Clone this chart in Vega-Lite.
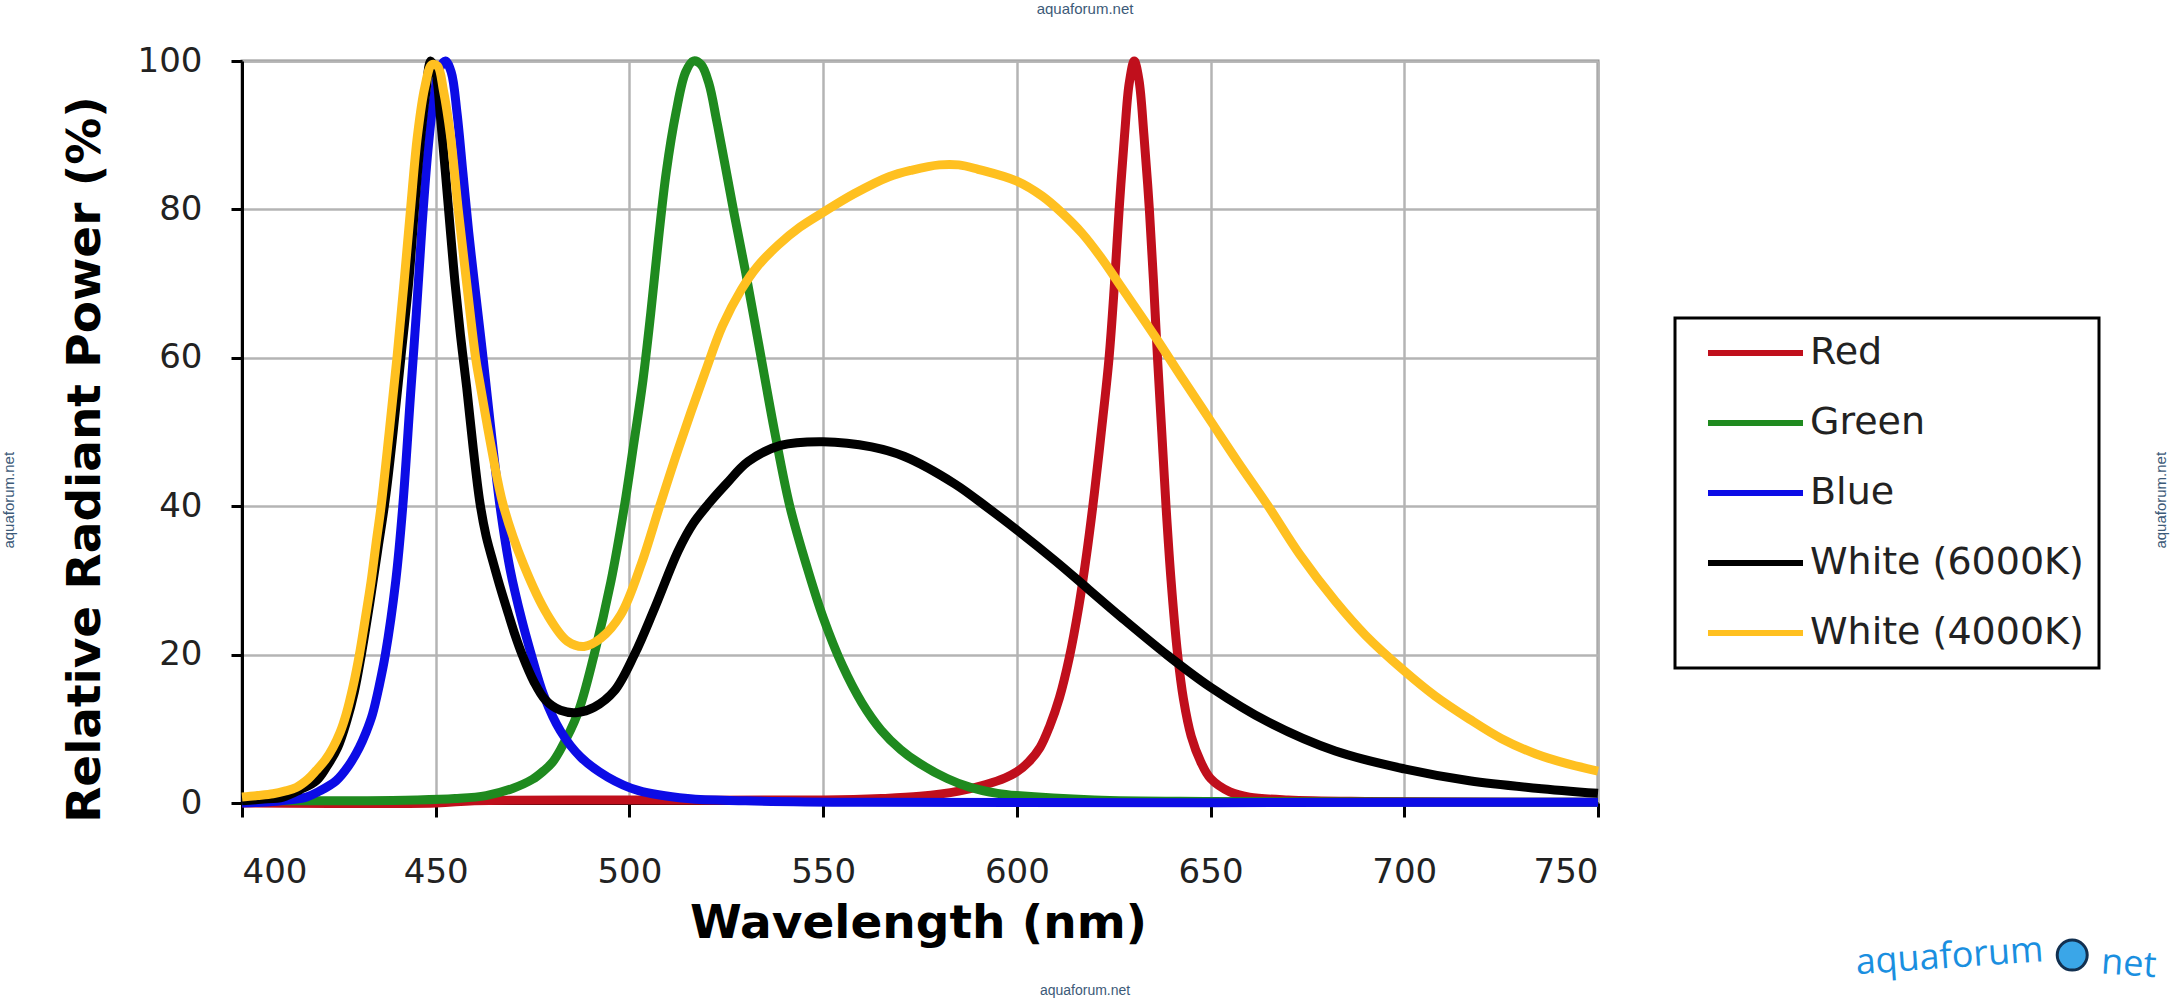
{
  "$schema": "https://vega.github.io/schema/vega-lite/v6.json",
  "width": 1356,
  "height": 742,
  "autosize": {"type": "none"},
  "padding": {"left": 242, "top": 61, "right": 572, "bottom": 197},
  "background": "white",
  "config": {
    "font": "DejaVu Sans",
    "view": {"stroke": "#8c8c8c", "strokeWidth": 3},
    "legend": {"strokeWidth": 3}
  },
  "datasets": {
    "spectra": [
      {"series": "Red", "wavelength": 400, "power": 0},
      {"series": "Red", "wavelength": 450, "power": 0},
      {"series": "Red", "wavelength": 460, "power": 0.3},
      {"series": "Red", "wavelength": 500, "power": 0.4},
      {"series": "Red", "wavelength": 550, "power": 0.4},
      {"series": "Red", "wavelength": 565, "power": 0.6},
      {"series": "Red", "wavelength": 575, "power": 0.9},
      {"series": "Red", "wavelength": 585, "power": 1.6},
      {"series": "Red", "wavelength": 592, "power": 2.5},
      {"series": "Red", "wavelength": 597, "power": 3.4},
      {"series": "Red", "wavelength": 600, "power": 4.2},
      {"series": "Red", "wavelength": 603, "power": 5.5},
      {"series": "Red", "wavelength": 606, "power": 7.5},
      {"series": "Red", "wavelength": 608.5, "power": 10.4},
      {"series": "Red", "wavelength": 611, "power": 14.2},
      {"series": "Red", "wavelength": 613.5, "power": 19.5},
      {"series": "Red", "wavelength": 616, "power": 26.5},
      {"series": "Red", "wavelength": 618, "power": 33.5},
      {"series": "Red", "wavelength": 620, "power": 41.7},
      {"series": "Red", "wavelength": 622, "power": 51},
      {"series": "Red", "wavelength": 623.8, "power": 60},
      {"series": "Red", "wavelength": 625.2, "power": 70},
      {"series": "Red", "wavelength": 626.4, "power": 80},
      {"series": "Red", "wavelength": 627.8, "power": 90},
      {"series": "Red", "wavelength": 629, "power": 97},
      {"series": "Red", "wavelength": 630.3, "power": 100},
      {"series": "Red", "wavelength": 631.5, "power": 97.5},
      {"series": "Red", "wavelength": 632.8, "power": 90},
      {"series": "Red", "wavelength": 634.2, "power": 80},
      {"series": "Red", "wavelength": 635.3, "power": 70},
      {"series": "Red", "wavelength": 636.3, "power": 60},
      {"series": "Red", "wavelength": 637.4, "power": 50},
      {"series": "Red", "wavelength": 638.5, "power": 40},
      {"series": "Red", "wavelength": 639.8, "power": 30},
      {"series": "Red", "wavelength": 641.5, "power": 20},
      {"series": "Red", "wavelength": 643, "power": 14},
      {"series": "Red", "wavelength": 645, "power": 9},
      {"series": "Red", "wavelength": 647.5, "power": 5.5},
      {"series": "Red", "wavelength": 650, "power": 3.3},
      {"series": "Red", "wavelength": 655, "power": 1.5},
      {"series": "Red", "wavelength": 660, "power": 0.8},
      {"series": "Red", "wavelength": 670, "power": 0.4},
      {"series": "Red", "wavelength": 690, "power": 0.2},
      {"series": "Red", "wavelength": 750, "power": 0.1},

      {"series": "Green", "wavelength": 400, "power": 0.3},
      {"series": "Green", "wavelength": 430, "power": 0.3},
      {"series": "Green", "wavelength": 445, "power": 0.4},
      {"series": "Green", "wavelength": 455, "power": 0.6},
      {"series": "Green", "wavelength": 463, "power": 1},
      {"series": "Green", "wavelength": 470, "power": 2},
      {"series": "Green", "wavelength": 475, "power": 3.2},
      {"series": "Green", "wavelength": 478, "power": 4.4},
      {"series": "Green", "wavelength": 480, "power": 5.4},
      {"series": "Green", "wavelength": 482.2, "power": 7.2},
      {"series": "Green", "wavelength": 486.6, "power": 12},
      {"series": "Green", "wavelength": 490.9, "power": 20},
      {"series": "Green", "wavelength": 495.2, "power": 29.8},
      {"series": "Green", "wavelength": 498.7, "power": 40},
      {"series": "Green", "wavelength": 501, "power": 48},
      {"series": "Green", "wavelength": 503.5, "power": 57},
      {"series": "Green", "wavelength": 505.5, "power": 66},
      {"series": "Green", "wavelength": 507.5, "power": 76},
      {"series": "Green", "wavelength": 509.5, "power": 85},
      {"series": "Green", "wavelength": 512, "power": 93},
      {"series": "Green", "wavelength": 514.5, "power": 98.5},
      {"series": "Green", "wavelength": 516.5, "power": 100},
      {"series": "Green", "wavelength": 518.5, "power": 99.5},
      {"series": "Green", "wavelength": 520.5, "power": 97},
      {"series": "Green", "wavelength": 522.5, "power": 92},
      {"series": "Green", "wavelength": 524.5, "power": 86.5},
      {"series": "Green", "wavelength": 527, "power": 79.5},
      {"series": "Green", "wavelength": 530, "power": 71.5},
      {"series": "Green", "wavelength": 534, "power": 60},
      {"series": "Green", "wavelength": 537.5, "power": 50},
      {"series": "Green", "wavelength": 541.4, "power": 40},
      {"series": "Green", "wavelength": 546, "power": 31.5},
      {"series": "Green", "wavelength": 550, "power": 25},
      {"series": "Green", "wavelength": 555, "power": 18.5},
      {"series": "Green", "wavelength": 560, "power": 13.5},
      {"series": "Green", "wavelength": 565, "power": 9.8},
      {"series": "Green", "wavelength": 570, "power": 7.2},
      {"series": "Green", "wavelength": 575, "power": 5.3},
      {"series": "Green", "wavelength": 582, "power": 3.3},
      {"series": "Green", "wavelength": 588, "power": 2.1},
      {"series": "Green", "wavelength": 595, "power": 1.3},
      {"series": "Green", "wavelength": 600, "power": 1},
      {"series": "Green", "wavelength": 620, "power": 0.4},
      {"series": "Green", "wavelength": 650, "power": 0.2},
      {"series": "Green", "wavelength": 750, "power": 0.1},

      {"series": "Blue", "wavelength": 400, "power": 0},
      {"series": "Blue", "wavelength": 405, "power": 0.1},
      {"series": "Blue", "wavelength": 410, "power": 0.3},
      {"series": "Blue", "wavelength": 416.6, "power": 0.8},
      {"series": "Blue", "wavelength": 420, "power": 1.6},
      {"series": "Blue", "wavelength": 424.3, "power": 3},
      {"series": "Blue", "wavelength": 427.5, "power": 5},
      {"series": "Blue", "wavelength": 430.3, "power": 7.5},
      {"series": "Blue", "wavelength": 432, "power": 9.5},
      {"series": "Blue", "wavelength": 433.7, "power": 12},
      {"series": "Blue", "wavelength": 435.5, "power": 16},
      {"series": "Blue", "wavelength": 437, "power": 20},
      {"series": "Blue", "wavelength": 439.7, "power": 30},
      {"series": "Blue", "wavelength": 441.5, "power": 40},
      {"series": "Blue", "wavelength": 443.5, "power": 55},
      {"series": "Blue", "wavelength": 445, "power": 66},
      {"series": "Blue", "wavelength": 446.5, "power": 78},
      {"series": "Blue", "wavelength": 448, "power": 88},
      {"series": "Blue", "wavelength": 449.5, "power": 95},
      {"series": "Blue", "wavelength": 451, "power": 99},
      {"series": "Blue", "wavelength": 452.5, "power": 100},
      {"series": "Blue", "wavelength": 454, "power": 98.5},
      {"series": "Blue", "wavelength": 455.5, "power": 93},
      {"series": "Blue", "wavelength": 457, "power": 85},
      {"series": "Blue", "wavelength": 458.5, "power": 77},
      {"series": "Blue", "wavelength": 460, "power": 70},
      {"series": "Blue", "wavelength": 462, "power": 61},
      {"series": "Blue", "wavelength": 464, "power": 51.5},
      {"series": "Blue", "wavelength": 466.6, "power": 40},
      {"series": "Blue", "wavelength": 469.2, "power": 31.5},
      {"series": "Blue", "wavelength": 472.3, "power": 24.5},
      {"series": "Blue", "wavelength": 474.4, "power": 20.5},
      {"series": "Blue", "wavelength": 477.9, "power": 14.5},
      {"series": "Blue", "wavelength": 482.2, "power": 9.7},
      {"series": "Blue", "wavelength": 487.4, "power": 6.2},
      {"series": "Blue", "wavelength": 494.4, "power": 3.5},
      {"series": "Blue", "wavelength": 502.2, "power": 1.7},
      {"series": "Blue", "wavelength": 515, "power": 0.6},
      {"series": "Blue", "wavelength": 530, "power": 0.3},
      {"series": "Blue", "wavelength": 560, "power": 0.1},
      {"series": "Blue", "wavelength": 750, "power": 0.1},

      {"series": "White (6000K)", "wavelength": 400, "power": 0.3},
      {"series": "White (6000K)", "wavelength": 405, "power": 0.5},
      {"series": "White (6000K)", "wavelength": 410.6, "power": 0.8},
      {"series": "White (6000K)", "wavelength": 415, "power": 1.8},
      {"series": "White (6000K)", "wavelength": 419.2, "power": 3},
      {"series": "White (6000K)", "wavelength": 422, "power": 5},
      {"series": "White (6000K)", "wavelength": 424.7, "power": 7.5},
      {"series": "White (6000K)", "wavelength": 427, "power": 11},
      {"series": "White (6000K)", "wavelength": 429, "power": 15},
      {"series": "White (6000K)", "wavelength": 430.8, "power": 20},
      {"series": "White (6000K)", "wavelength": 433, "power": 27},
      {"series": "White (6000K)", "wavelength": 435, "power": 34},
      {"series": "White (6000K)", "wavelength": 437, "power": 41},
      {"series": "White (6000K)", "wavelength": 439, "power": 50},
      {"series": "White (6000K)", "wavelength": 441, "power": 60},
      {"series": "White (6000K)", "wavelength": 443, "power": 70},
      {"series": "White (6000K)", "wavelength": 444.5, "power": 80},
      {"series": "White (6000K)", "wavelength": 446, "power": 89},
      {"series": "White (6000K)", "wavelength": 447.5, "power": 96},
      {"series": "White (6000K)", "wavelength": 448.7, "power": 100},
      {"series": "White (6000K)", "wavelength": 450, "power": 98.5},
      {"series": "White (6000K)", "wavelength": 451.3, "power": 92},
      {"series": "White (6000K)", "wavelength": 452.5, "power": 85},
      {"series": "White (6000K)", "wavelength": 453.8, "power": 77},
      {"series": "White (6000K)", "wavelength": 455, "power": 70},
      {"series": "White (6000K)", "wavelength": 456.4, "power": 63},
      {"series": "White (6000K)", "wavelength": 458, "power": 56},
      {"series": "White (6000K)", "wavelength": 459.7, "power": 47.7},
      {"series": "White (6000K)", "wavelength": 461.4, "power": 40.5},
      {"series": "White (6000K)", "wavelength": 463, "power": 36},
      {"series": "White (6000K)", "wavelength": 464.9, "power": 32.3},
      {"series": "White (6000K)", "wavelength": 466.8, "power": 28.8},
      {"series": "White (6000K)", "wavelength": 468.8, "power": 25.4},
      {"series": "White (6000K)", "wavelength": 470.5, "power": 22.6},
      {"series": "White (6000K)", "wavelength": 472.3, "power": 20},
      {"series": "White (6000K)", "wavelength": 475.3, "power": 16.4},
      {"series": "White (6000K)", "wavelength": 478.3, "power": 13.9},
      {"series": "White (6000K)", "wavelength": 482.2, "power": 12.5},
      {"series": "White (6000K)", "wavelength": 486.6, "power": 12.2},
      {"series": "White (6000K)", "wavelength": 490.9, "power": 12.9},
      {"series": "White (6000K)", "wavelength": 496.1, "power": 15.1},
      {"series": "White (6000K)", "wavelength": 501.3, "power": 20},
      {"series": "White (6000K)", "wavelength": 506.5, "power": 26.25},
      {"series": "White (6000K)", "wavelength": 512.6, "power": 34},
      {"series": "White (6000K)", "wavelength": 516.5, "power": 37.7},
      {"series": "White (6000K)", "wavelength": 520.4, "power": 40.3},
      {"series": "White (6000K)", "wavelength": 525, "power": 43},
      {"series": "White (6000K)", "wavelength": 530.6, "power": 46},
      {"series": "White (6000K)", "wavelength": 539, "power": 48.2},
      {"series": "White (6000K)", "wavelength": 550, "power": 48.7},
      {"series": "White (6000K)", "wavelength": 562.5, "power": 48},
      {"series": "White (6000K)", "wavelength": 571, "power": 46.7},
      {"series": "White (6000K)", "wavelength": 584, "power": 43},
      {"series": "White (6000K)", "wavelength": 592.7, "power": 39.7},
      {"series": "White (6000K)", "wavelength": 600, "power": 36.8},
      {"series": "White (6000K)", "wavelength": 610, "power": 32.6},
      {"series": "White (6000K)", "wavelength": 618.5, "power": 28.8},
      {"series": "White (6000K)", "wavelength": 627, "power": 25},
      {"series": "White (6000K)", "wavelength": 638.9, "power": 19.9},
      {"series": "White (6000K)", "wavelength": 650, "power": 15.6},
      {"series": "White (6000K)", "wavelength": 664.9, "power": 10.9},
      {"series": "White (6000K)", "wavelength": 682.2, "power": 7},
      {"series": "White (6000K)", "wavelength": 700, "power": 4.6},
      {"series": "White (6000K)", "wavelength": 716.8, "power": 3},
      {"series": "White (6000K)", "wavelength": 734, "power": 2},
      {"series": "White (6000K)", "wavelength": 750, "power": 1.3},

      {"series": "White (4000K)", "wavelength": 400, "power": 0.8},
      {"series": "White (4000K)", "wavelength": 404, "power": 1},
      {"series": "White (4000K)", "wavelength": 408, "power": 1.25},
      {"series": "White (4000K)", "wavelength": 411, "power": 1.6},
      {"series": "White (4000K)", "wavelength": 414, "power": 2.1},
      {"series": "White (4000K)", "wavelength": 417, "power": 3.2},
      {"series": "White (4000K)", "wavelength": 419.2, "power": 4.4},
      {"series": "White (4000K)", "wavelength": 421.5, "power": 5.8},
      {"series": "White (4000K)", "wavelength": 423.5, "power": 7.5},
      {"series": "White (4000K)", "wavelength": 425.3, "power": 9.5},
      {"series": "White (4000K)", "wavelength": 426.9, "power": 12},
      {"series": "White (4000K)", "wavelength": 428.7, "power": 15.8},
      {"series": "White (4000K)", "wavelength": 430.3, "power": 20},
      {"series": "White (4000K)", "wavelength": 431.8, "power": 24.8},
      {"series": "White (4000K)", "wavelength": 433.3, "power": 29.8},
      {"series": "White (4000K)", "wavelength": 434.6, "power": 35},
      {"series": "White (4000K)", "wavelength": 435.9, "power": 40},
      {"series": "White (4000K)", "wavelength": 438, "power": 50},
      {"series": "White (4000K)", "wavelength": 440, "power": 60},
      {"series": "White (4000K)", "wavelength": 441.8, "power": 70},
      {"series": "White (4000K)", "wavelength": 443.5, "power": 80},
      {"series": "White (4000K)", "wavelength": 445.3, "power": 90},
      {"series": "White (4000K)", "wavelength": 447.2, "power": 96.5},
      {"series": "White (4000K)", "wavelength": 449, "power": 99.5},
      {"series": "White (4000K)", "wavelength": 450.5, "power": 99.3},
      {"series": "White (4000K)", "wavelength": 452, "power": 96},
      {"series": "White (4000K)", "wavelength": 453.8, "power": 90},
      {"series": "White (4000K)", "wavelength": 455.8, "power": 80},
      {"series": "White (4000K)", "wavelength": 458, "power": 70},
      {"series": "White (4000K)", "wavelength": 460.3, "power": 60},
      {"series": "White (4000K)", "wavelength": 461.5, "power": 56.3},
      {"series": "White (4000K)", "wavelength": 464.5, "power": 47.5},
      {"series": "White (4000K)", "wavelength": 467.5, "power": 40},
      {"series": "White (4000K)", "wavelength": 472.7, "power": 32.1},
      {"series": "White (4000K)", "wavelength": 478.8, "power": 25.4},
      {"series": "White (4000K)", "wavelength": 484, "power": 21.8},
      {"series": "White (4000K)", "wavelength": 488.3, "power": 21.1},
      {"series": "White (4000K)", "wavelength": 492.6, "power": 22.2},
      {"series": "White (4000K)", "wavelength": 497.8, "power": 25.4},
      {"series": "White (4000K)", "wavelength": 503, "power": 32.1},
      {"series": "White (4000K)", "wavelength": 507.8, "power": 40},
      {"series": "White (4000K)", "wavelength": 512.6, "power": 47.7},
      {"series": "White (4000K)", "wavelength": 519.5, "power": 58},
      {"series": "White (4000K)", "wavelength": 524, "power": 64.3},
      {"series": "White (4000K)", "wavelength": 528.9, "power": 69.2},
      {"series": "White (4000K)", "wavelength": 533, "power": 72.3},
      {"series": "White (4000K)", "wavelength": 538.4, "power": 75.2},
      {"series": "White (4000K)", "wavelength": 544, "power": 77.6},
      {"series": "White (4000K)", "wavelength": 550, "power": 79.6},
      {"series": "White (4000K)", "wavelength": 558, "power": 82.1},
      {"series": "White (4000K)", "wavelength": 567, "power": 84.4},
      {"series": "White (4000K)", "wavelength": 573, "power": 85.3},
      {"series": "White (4000K)", "wavelength": 580, "power": 86},
      {"series": "White (4000K)", "wavelength": 585, "power": 86},
      {"series": "White (4000K)", "wavelength": 590, "power": 85.4},
      {"series": "White (4000K)", "wavelength": 600, "power": 83.8},
      {"series": "White (4000K)", "wavelength": 606.5, "power": 81.8},
      {"series": "White (4000K)", "wavelength": 611.5, "power": 79.6},
      {"series": "White (4000K)", "wavelength": 616.8, "power": 76.8},
      {"series": "White (4000K)", "wavelength": 621.6, "power": 73.6},
      {"series": "White (4000K)", "wavelength": 627, "power": 69.5},
      {"series": "White (4000K)", "wavelength": 635.5, "power": 63},
      {"series": "White (4000K)", "wavelength": 643, "power": 57},
      {"series": "White (4000K)", "wavelength": 650, "power": 51.5},
      {"series": "White (4000K)", "wavelength": 657, "power": 46},
      {"series": "White (4000K)", "wavelength": 664.9, "power": 40},
      {"series": "White (4000K)", "wavelength": 673, "power": 33.5},
      {"series": "White (4000K)", "wavelength": 682.2, "power": 27.2},
      {"series": "White (4000K)", "wavelength": 690, "power": 22.6},
      {"series": "White (4000K)", "wavelength": 700, "power": 17.8},
      {"series": "White (4000K)", "wavelength": 708, "power": 14.4},
      {"series": "White (4000K)", "wavelength": 716.8, "power": 11.3},
      {"series": "White (4000K)", "wavelength": 725, "power": 8.7},
      {"series": "White (4000K)", "wavelength": 734, "power": 6.6},
      {"series": "White (4000K)", "wavelength": 742, "power": 5.3},
      {"series": "White (4000K)", "wavelength": 750, "power": 4.3}
    ],
    "watermark": [{"label": "aquaforum.net"}]
  },
  "layer": [
    {
      "data": {"name": "spectra"},
      "mark": {"type": "line", "strokeWidth": 9, "interpolate": "catmull-rom"},
      "encoding": {
        "x": {
          "field": "wavelength",
          "type": "quantitative",
          "scale": {"domain": [400, 750], "nice": false, "zero": false},
          "axis": {
            "values": [400, 450, 500, 550, 600, 650, 700, 750],
            "title": "Wavelength (nm)",
            "titleFontSize": 47,
            "titleFontWeight": "bold",
            "titleColor": "#000000",
            "titleX": 676,
            "titleY": 134,
            "titleBaseline": "alphabetic",
            "labelFontSize": 34,
            "labelColor": "#222222",
            "labelPadding": 38,
            "tickSize": 14,
            "tickWidth": 3,
            "tickColor": "#000000",
            "domainColor": "#000000",
            "domainWidth": 3,
            "gridColor": "#b4b4b4",
            "gridWidth": 2.5
          }
        },
        "y": {
          "field": "power",
          "type": "quantitative",
          "scale": {"domain": [0, 100], "nice": false},
          "axis": {
            "values": [0, 20, 40, 60, 80, 100],
            "title": "Relative Radiant Power (%)",
            "titleFontSize": 47,
            "titleFontWeight": "bold",
            "titleColor": "#000000",
            "titleX": -143,
            "titleY": 398,
            "titleBaseline": "alphabetic",
            "titleAlign": "center",
            "labelFontSize": 34,
            "labelColor": "#222222",
            "labelPadding": 29,
            "tickSize": 11,
            "tickWidth": 3,
            "tickColor": "#000000",
            "domainColor": "#000000",
            "domainWidth": 3,
            "gridColor": "#b4b4b4",
            "gridWidth": 2.5
          }
        },
        "color": {
          "field": "series",
          "type": "nominal",
          "scale": {
            "domain": ["Red", "Green", "Blue", "White (6000K)", "White (4000K)"],
            "range": ["#c00f1c", "#1f8a1f", "#0c0ce6", "#000000", "#ffc020"]
          },
          "legend": {
            "title": null,
            "orient": "none",
            "legendX": 1433,
            "legendY": 257,
            "strokeColor": "#000000",
            "fillColor": "#ffffff",
            "padding": 15,
            "symbolOffset": 15,
            "symbolType": "stroke",
            "symbolSize": 9025,
            "symbolStrokeWidth": 6,
            "clipHeight": 40,
            "rowPadding": 30,
            "labelFontSize": 38,
            "labelColor": "#222222",
            "labelOffset": 4,
            "labelLimit": 500,
            "labelExpr": "datum.label + '\u2002'"
          }
        }
      }
    },
    {
      "data": {"name": "watermark"},
      "mark": {"type": "text", "font": "Liberation Sans", "fontSize": 15, "color": "#3c5a78", "baseline": "top", "align": "center"},
      "encoding": {
        "x": {"datum": 617.6, "type": "quantitative"},
        "y": {"datum": 107.9, "type": "quantitative"},
        "text": {"field": "label"}
      }
    },
    {
      "data": {"name": "watermark"},
      "mark": {"type": "text", "font": "Liberation Sans", "fontSize": 14, "color": "#3c5a78", "baseline": "bottom", "align": "center"},
      "encoding": {
        "x": {"datum": 617.6, "type": "quantitative"},
        "y": {"datum": -26.3, "type": "quantitative"},
        "text": {"field": "label"}
      }
    },
    {
      "data": {"name": "watermark"},
      "mark": {"type": "text", "font": "Liberation Sans", "fontSize": 15, "color": "#3c5a78", "baseline": "middle", "align": "center", "angle": 270},
      "encoding": {
        "x": {"datum": 339.8, "type": "quantitative"},
        "y": {"datum": 40.8, "type": "quantitative"},
        "text": {"field": "label"}
      }
    },
    {
      "data": {"name": "watermark"},
      "mark": {"type": "text", "font": "Liberation Sans", "fontSize": 15, "color": "#3c5a78", "baseline": "middle", "align": "center", "angle": 270},
      "encoding": {
        "x": {"datum": 895.4, "type": "quantitative"},
        "y": {"datum": 40.8, "type": "quantitative"},
        "text": {"field": "label"}
      }
    },
    {
      "data": {"values": [{"part": "aquaforum"}]},
      "mark": {"type": "text", "font": "Open Sans", "fontSize": 36, "color": "#1a8fe0", "baseline": "alphabetic", "align": "center", "angle": 356},
      "encoding": {
        "x": {"datum": 840.9, "type": "quantitative"},
        "y": {"datum": -22.2, "type": "quantitative"},
        "text": {"field": "part"}
      }
    },
    {
      "data": {"values": [{"part": "net"}]},
      "mark": {"type": "text", "font": "Open Sans", "fontSize": 36, "color": "#1a8fe0", "baseline": "alphabetic", "align": "center", "angle": 4},
      "encoding": {
        "x": {"datum": 886.8, "type": "quantitative"},
        "y": {"datum": -23.2, "type": "quantitative"},
        "text": {"field": "part"}
      }
    },
    {
      "data": {"values": [{"part": "fish"}]},
      "mark": {"type": "point", "shape": "circle", "filled": true, "size": 900, "color": "#3aa6e8", "stroke": "#123050", "strokeWidth": 3, "opacity": 1},
      "encoding": {
        "x": {"datum": 872.4, "type": "quantitative"},
        "y": {"datum": -20.5, "type": "quantitative"}
      }
    }
  ]
}
